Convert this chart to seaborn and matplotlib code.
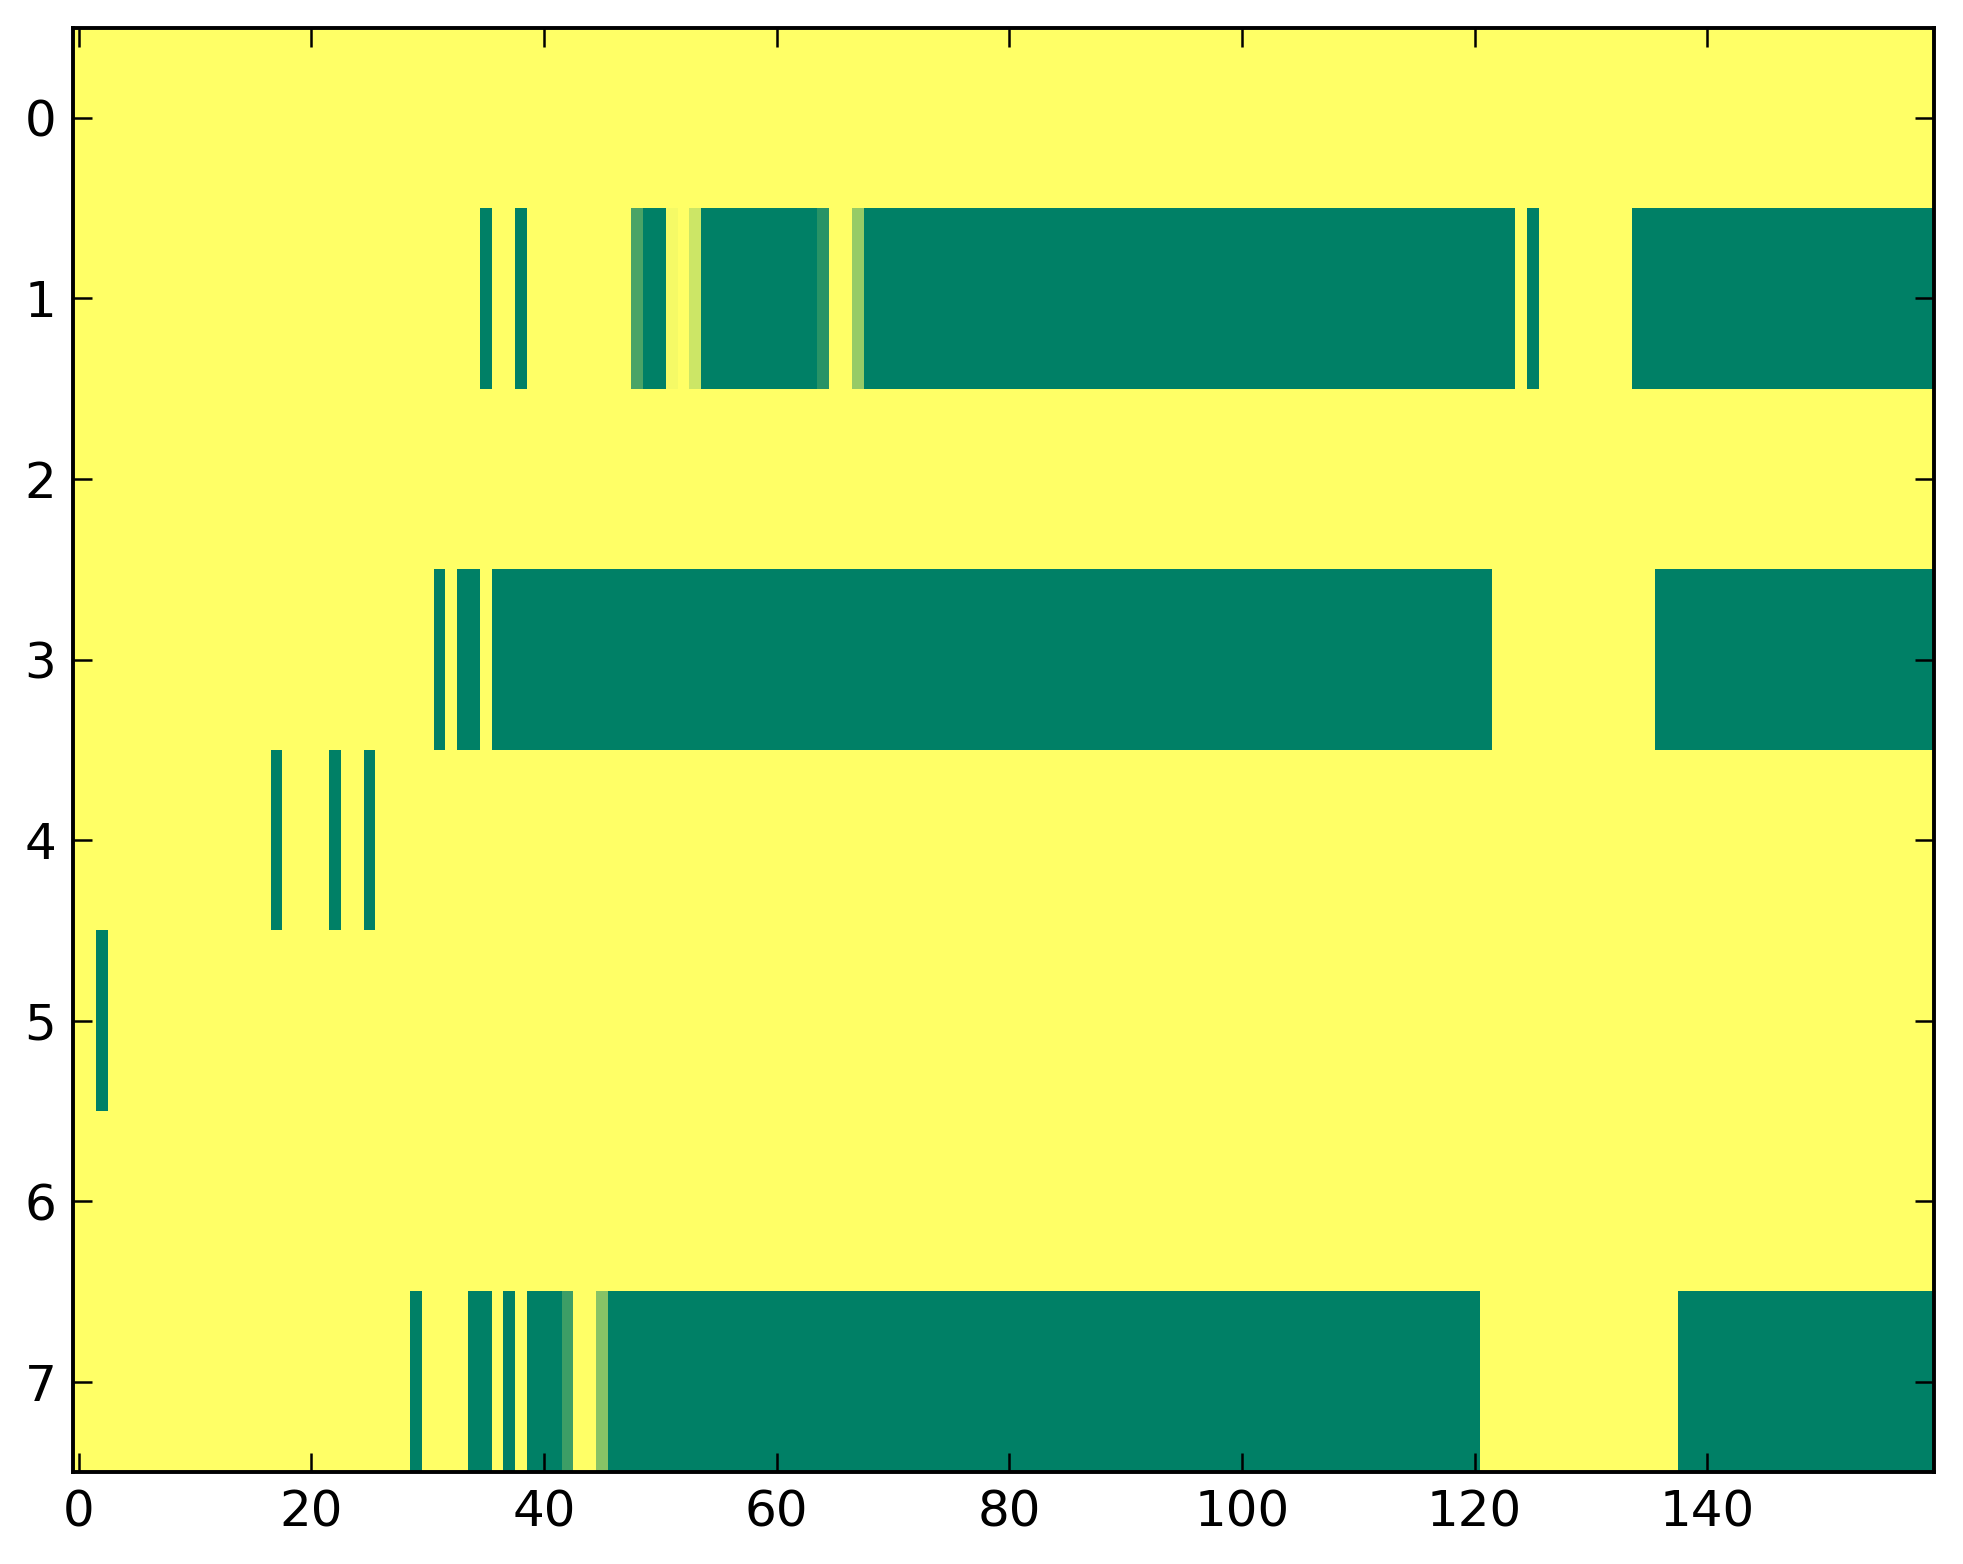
import numpy as np
import pandas as pd
import matplotlib
matplotlib.use("Agg")
import matplotlib.pyplot as plt
import seaborn as sns

N_ROWS = 8
N_COLS = 160

# fully "on" runs per row, inclusive (first, last) column
row_runs = {
    1: [(35, 35), (38, 38), (49, 50), (54, 63), (68, 123), (125, 125), (134, 159)],
    3: [(31, 31), (33, 34), (36, 121), (136, 159)],
    4: [(17, 17), (22, 22), (25, 25)],
    5: [(2, 2)],
    7: [(29, 29), (34, 35), (37, 37), (39, 41), (46, 120), (138, 159)],
}

# cells with in-between values
row_partial = {
    1: {48: 0.71, 51: 0.04, 53: 0.20, 64: 0.84, 67: 0.41},
    7: {42: 0.76, 45: 0.47},
}

x_ticks = [0, 20, 40, 60, 80, 100, 120, 140]
y_ticks = [0, 1, 2, 3, 4, 5, 6, 7]

grid = np.zeros((N_ROWS, N_COLS))
for r, runs in row_runs.items():
    for a, b in runs:
        grid[r, a:b + 1] = 1.0
for r, cells in row_partial.items():
    for c, v in cells.items():
        grid[r, c] = v

df = pd.DataFrame(grid)

sns.set_style("ticks")
plt.rcParams["font.family"] = ["DejaVu Sans"]

fig = plt.figure(figsize=(1963 / 200, 1564 / 200), dpi=200)
ax = fig.add_axes([73 / 1963, 1 - 1472 / 1564, (1934 - 73) / 1963, (1472 - 27.6) / 1564])

sns.heatmap(df, cmap="summer_r", vmin=0, vmax=1, cbar=False, ax=ax,
            xticklabels=False, yticklabels=False)

for s in ax.spines.values():
    s.set_visible(True)
    s.set_linewidth(1.4)
    s.set_color("black")
    s.set_zorder(5)

ax.set_xticks([t + 0.5 for t in x_ticks])
ax.set_xticklabels([str(t) for t in x_ticks])
ax.set_yticks([t + 0.5 for t in y_ticks])
ax.set_yticklabels([str(t) for t in y_ticks], rotation=0)
ax.tick_params(direction="in", length=7, width=0.9, top=True, right=True,
               labelsize=18, pad=6, colors="black")
ax.set_axisbelow(False)
ax.set_xlabel("")
ax.set_ylabel("")

fig.savefig("out.png", dpi=200)
